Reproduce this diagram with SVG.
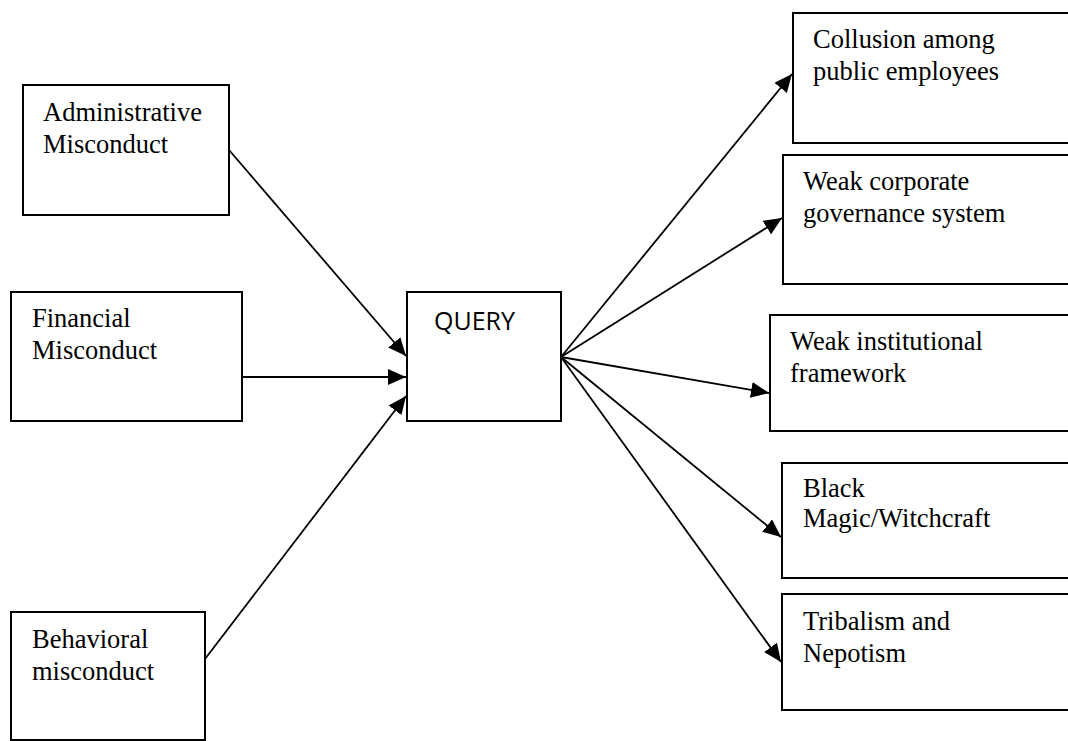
<svg xmlns="http://www.w3.org/2000/svg" width="1068" height="741" viewBox="0 0 1068 741">
<style>
.box{fill:#fff;stroke:#000;stroke-width:2}
.t{font-family:"Liberation Serif","Times New Roman",serif;font-size:26.5px;fill:#000}
.q{font-family:"Open Sans","Liberation Sans",sans-serif;font-size:25px;fill:#000}
.c{stroke:#000;stroke-width:1.8;fill:none;marker-end:url(#ah)}
</style>
<defs>
<marker id="ah" markerUnits="userSpaceOnUse" markerWidth="20" markerHeight="16" refX="18" refY="8" orient="auto">
<path d="M0,0 L18,8 L0,16 Z" fill="#000"/>
</marker>
</defs>
<rect width="1068" height="741" fill="#fff"/>
<g id="admin"><rect class="box" x="23" y="85" width="206" height="130"/><text class="t" x="43" y="121">Administrative</text><text class="t" x="43" y="153">Misconduct</text></g>
<g id="financial"><rect class="box" x="11" y="292" width="231" height="129"/><text class="t" x="32" y="327">Financial</text><text class="t" x="32" y="359">Misconduct</text></g>
<g id="behavioral"><rect class="box" x="11" y="612" width="194" height="128"/><text class="t" x="32" y="648">Behavioral</text><text class="t" x="32" y="680">misconduct</text></g>
<g id="query"><rect class="box" x="407" y="292" width="154" height="129"/><text class="q" x="434" y="330">QUERY</text></g>
<g id="collusion"><rect class="box" x="793" y="13" width="290" height="130"/><text class="t" x="813" y="48">Collusion among</text><text class="t" x="813" y="80">public employees</text></g>
<g id="corporate"><rect class="box" x="783" y="155" width="300" height="129"/><text class="t" x="803" y="190">Weak corporate</text><text class="t" x="803" y="222">governance system</text></g>
<g id="institutional"><rect class="box" x="770" y="315" width="310" height="116"/><text class="t" x="790" y="350">Weak institutional</text><text class="t" x="790" y="382">framework</text></g>
<g id="magic"><rect class="box" x="782" y="463" width="300" height="115"/><text class="t" x="803" y="497">Black</text><text class="t" x="803" y="527">Magic/Witchcraft</text></g>
<g id="tribalism"><rect class="box" x="782" y="594" width="300" height="116"/><text class="t" x="803" y="630">Tribalism and</text><text class="t" x="803" y="662">Nepotism</text></g>
<g id="connectors">
<line class="c" x1="229" y1="150" x2="406" y2="356"/>
<line class="c" x1="242" y1="377" x2="406" y2="377"/>
<line class="c" x1="205" y1="659" x2="406" y2="396"/>
<line class="c" x1="561" y1="357" x2="792" y2="74"/>
<line class="c" x1="561" y1="357" x2="782" y2="218"/>
<line class="c" x1="561" y1="357" x2="769" y2="393"/>
<line class="c" x1="561" y1="357" x2="781" y2="537"/>
<line class="c" x1="561" y1="357" x2="781" y2="662"/>
</g>
</svg>
